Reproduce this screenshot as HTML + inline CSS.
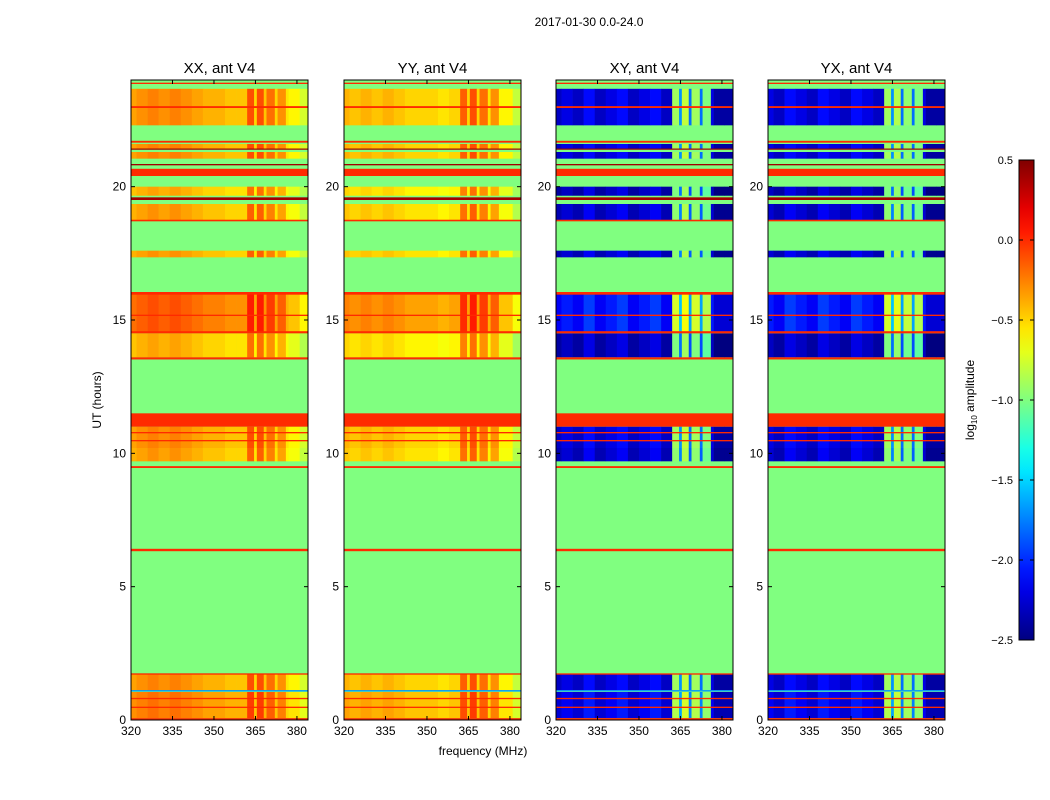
<!DOCTYPE html>
<html><head><meta charset="utf-8"><style>
html,body{margin:0;padding:0;background:#fff;}
svg{display:block;font-family:"Liberation Sans","DejaVu Sans",sans-serif;}
</style></head><body>
<svg id="fig" width="1050" height="800" viewBox="0 0 1050 800">
<text x="589" y="26" font-size="12" text-anchor="middle">2017-01-30 0.0-24.0</text>
<text x="483" y="755" font-size="12" text-anchor="middle">frequency (MHz)</text>
<text transform="translate(101,400) rotate(-90)" font-size="12" text-anchor="middle">UT (hours)</text>
<text transform="translate(974,400) rotate(-90)" font-size="12" text-anchor="middle">log<tspan font-size="8" dy="3">10</tspan><tspan dy="-3"> amplitude</tspan></text>
</svg>
<script>
// ---- data ----
const panelTitles = ["XX, ant V4","YY, ant V4","XY, ant V4","YX, ant V4"];
const xTicks = [320,335,350,365,380];
const yTicks = [0,5,10,15,20];
const cbTicks = [0.5,0.0,-0.5,-1.0,-1.5,-2.0,-2.5];
const cbTickLabels = ["0.5","0.0","\u22120.5","\u22121.0","\u22121.5","\u22122.0","\u22122.5"];
const baseValue = -1.0;
const segStart = [320,322,326,330,334,338,342,346,350,354,358,362,364.5,365.5,368,369,372,373,376,377,381];
const segEnd   = [322,326,330,334,338,342,346,350,354,358,362,364.5,365.5,368,369,372,373,376,377,381,384];
const xxLevel = [-0.35,-0.3,-0.25,-0.3,-0.25,-0.3,-0.35,-0.4,-0.4,-0.45,-0.45,-0.1,-0.5,-0.1,-0.45,-0.2,-0.5,-0.3,-0.55,-0.6,-0.75];
const yyLevel = [-0.4,-0.45,-0.4,-0.45,-0.4,-0.45,-0.5,-0.5,-0.5,-0.55,-0.5,-0.15,-0.5,-0.1,-0.5,-0.2,-0.55,-0.3,-0.6,-0.6,-0.8];
const xyLevel = [-2.3,-2.2,-2.3,-2.1,-2.3,-2.2,-2.1,-2.3,-2.2,-2.1,-2.3,-0.9,-1.7,-0.8,-1.8,-0.9,-1.8,-1.0,-2.2,-2.4,-2.4];
const yxLevel = [-2.2,-2.3,-2.1,-2.2,-2.3,-2.1,-2.2,-2.3,-2.1,-2.2,-2.3,-0.9,-1.7,-0.85,-1.8,-0.95,-1.8,-1.0,-2.2,-2.4,-2.4];
const bandStart  = [0.07,1.12,9.7,10.2,13.6,14.55,17.35,18.75,19.66,21.05,21.4,22.3];
const bandEnd    = [1.05,1.72,10.2,11.0,14.5,16.0,17.6,19.35,20.0,21.3,21.6,23.67];
const bandOffset = [0.05,0.0,-0.05,0.0,-0.1,0.15,-0.05,-0.05,-0.1,0.0,0.0,0.0];
const flagStart = [0,0.45,0.78,1.07,1.7,6.33,9.45,10.45,10.75,11.0,13.52,14.5,15.15,15.95,18.7,19.5,20.4,20.8,21.4,21.65,22.95,23.85];
const flagEnd   = [0.07,0.5,0.83,1.12,1.75,6.42,9.52,10.5,10.8,11.5,13.6,14.58,15.2,16.05,18.76,19.6,20.67,20.85,21.43,21.72,23.02,23.9];
const flagValue = [0,0,0,-1.7,0,0,0,0,0,0,0,0,0,0,0,0.4,0,0.4,0.4,0,0,0];
// ---- rendering ----
const NS="http://www.w3.org/2000/svg";
const svg=document.getElementById('fig');
const panelLeft=[131,344,556,768], pTop=80, pBottom=720, pW=177;
const fMin=320, fMax=384, tMin=0, tMax=24, vMin=-2.5, vMax=0.5;
const levels=[xxLevel,yyLevel,xyLevel,yxLevel];
function clamp(v){return Math.max(0,Math.min(1,v));}
function jet(v){const t=clamp((v-vMin)/(vMax-vMin));
 const r=clamp(1.5-Math.abs(4*t-3)),g=clamp(1.5-Math.abs(4*t-2)),b=clamp(1.5-Math.abs(4*t-1));
 return `rgb(${Math.round(r*255)},${Math.round(g*255)},${Math.round(b*255)})`;}
function mk(tag,attrs,parent){const e=document.createElementNS(NS,tag);for(const k in attrs)e.setAttribute(k,attrs[k]);(parent||svg).appendChild(e);return e;}
function yOf(t){return pBottom-(t-tMin)/(tMax-tMin)*(pBottom-pTop);}
panelLeft.forEach((L,p)=>{
 const xOf=f=>L+(f-fMin)/(fMax-fMin)*pW;
 const g=mk('g',{});
 
 
 const bg=mk('rect',{x:L,y:pTop,width:pW,height:pBottom-pTop,fill:jet(baseValue)},g);
 
 
 bandStart.forEach((s,b)=>{
  segStart.forEach((fs,c)=>{
   const y1=yOf(bandEnd[b]),y2=yOf(s);
   const r=mk('rect',{x:xOf(fs),y:y1,width:xOf(segEnd[c])-xOf(fs)+0.3,height:Math.max(1,y2-y1),fill:jet(levels[p][c]+bandOffset[b])},g);
   
   
  });
 });
 flagStart.forEach((s,i)=>{
  const y1=yOf(flagEnd[i]),y2=yOf(s);
  const r=mk('rect',{x:L,y:y1,width:pW,height:Math.max(1.2,y2-y1),fill:jet(flagValue[i])},g);
  
  
 });
 const fr=mk('rect',{x:L,y:pTop,width:pW,height:pBottom-pTop,fill:'none',stroke:'#000','stroke-width':1},g);
 
 
 const tt=mk('text',{x:L+pW/2,y:73,'font-size':15,'text-anchor':'middle'},g);
 tt.textContent=panelTitles[p];
 
 
 xTicks.forEach(v=>{const x=xOf(v);
  mk('line',{x1:x,x2:x,y1:pBottom,y2:pBottom-4,stroke:'#000'},g);
  mk('line',{x1:x,x2:x,y1:pTop,y2:pTop+4,stroke:'#000'},g);
  const t=mk('text',{x:x,y:pBottom+15,'font-size':12,'text-anchor':'middle'},g);
  t.textContent=v;
  
  
 });
 yTicks.forEach(v=>{const y=yOf(v);
  mk('line',{x1:L,x2:L+4,y1:y,y2:y,stroke:'#000'},g);
  mk('line',{x1:L+pW,x2:L+pW-4,y1:y,y2:y,stroke:'#000'},g);
  const t=mk('text',{x:L-5,y:y+4,'font-size':12,'text-anchor':'end'},g);
  t.textContent=v;
  
  
 });
});
// colorbar
const cbX=1019,cbW=15,cbTop=160,cbBot=640;
const defs=mk('defs',{});
const grad=mk('linearGradient',{id:'jetg',x1:0,y1:1,x2:0,y2:0},defs);
for(let i=0;i<=20;i++){mk('stop',{offset:i/20,'stop-color':jet(vMin+(vMax-vMin)*i/20)},grad);}
const cb=mk('rect',{x:cbX,y:cbTop,width:cbW,height:cbBot-cbTop,fill:'url(#jetg)',stroke:'#000','stroke-width':1});


const cbY=v=>cbBot-(v-vMin)/(vMax-vMin)*(cbBot-cbTop);
cbTicks.forEach((v,i)=>{const y=cbY(v);
 mk('line',{x1:cbX,x2:cbX+4,y1:y,y2:y,stroke:'#000'});
 mk('line',{x1:cbX+cbW,x2:cbX+cbW-4,y1:y,y2:y,stroke:'#000'});
 const t=mk('text',{x:cbX-6,y:y+4,'font-size':11,'text-anchor':'end'});
 t.textContent=cbTickLabels[i];
 
 
});
</script>
</body></html>
